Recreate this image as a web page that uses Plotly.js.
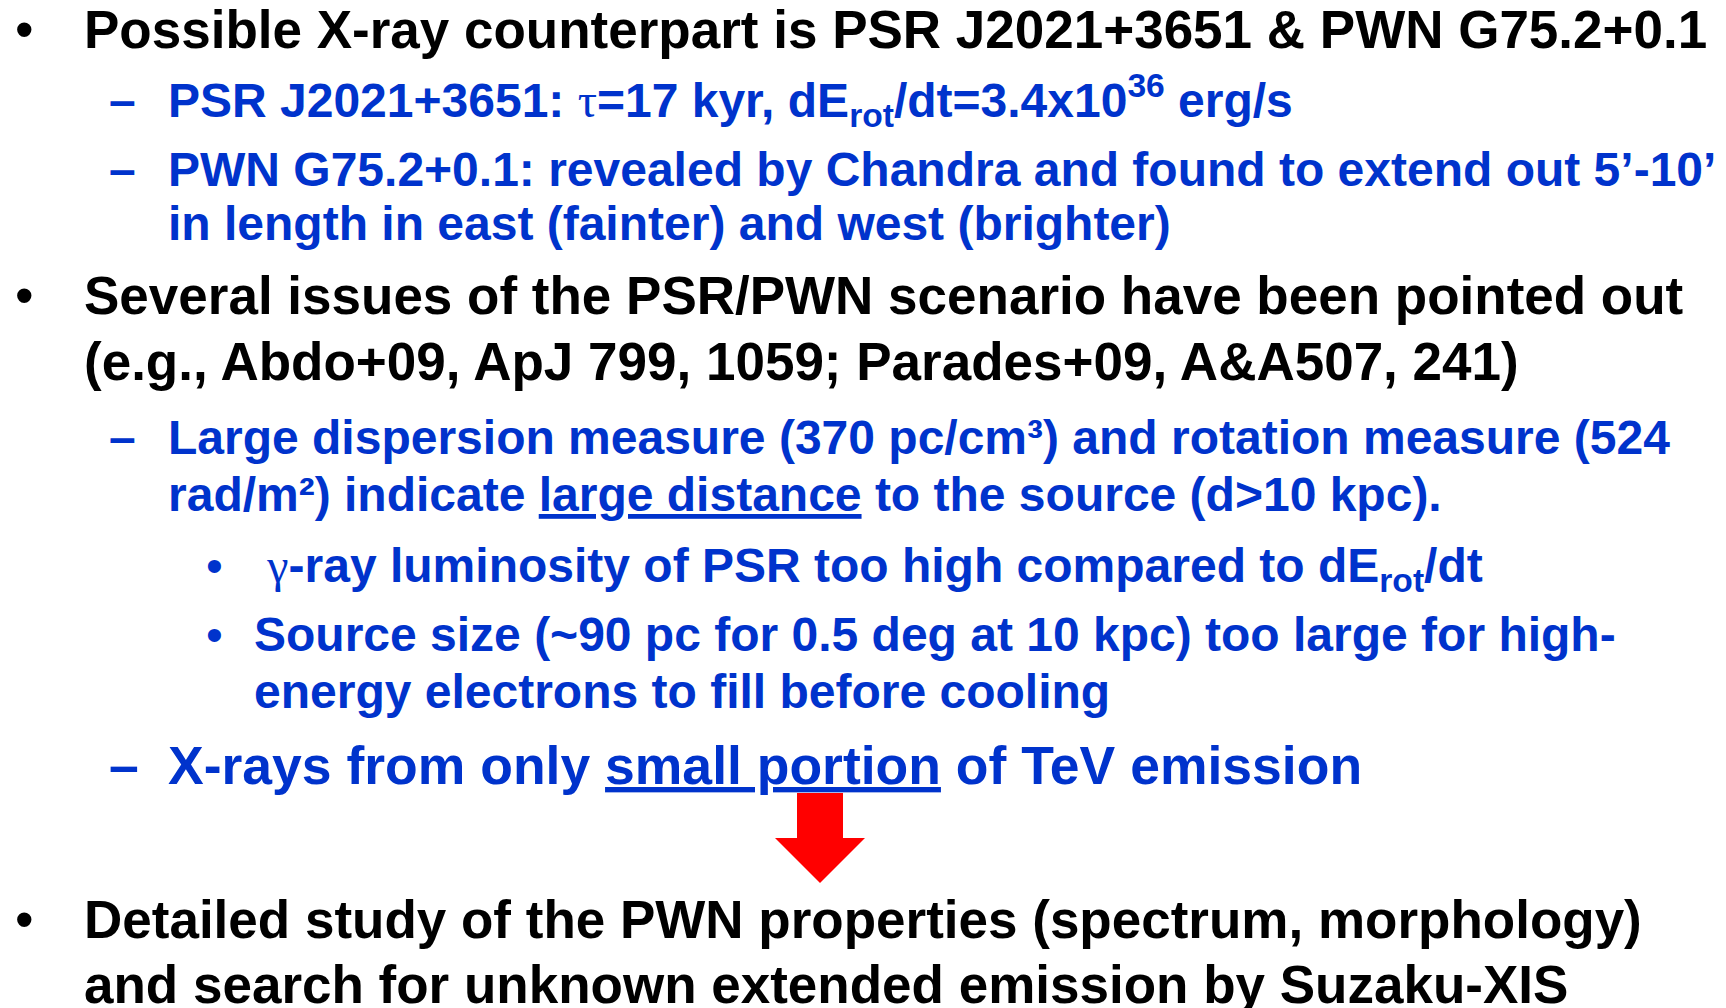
<!DOCTYPE html>
<html>
<head>
<meta charset="utf-8">
<script src="https://cdn.plot.ly/plotly-3.0.1.min.js"></script>
<style>
  html, body { margin: 0; padding: 0; background: #ffffff; }
  #chart { width: 1726px; height: 1008px; }
</style>
</head>
<body>
<div id="chart"></div>
<script>
// ---------------- content (data) ----------------
const sym = s => `<span style="font-family:'Liberation Serif','Times New Roman',serif;font-weight:normal">${s}</span>`;
const und = s => `<span style="text-decoration:underline">${s}</span>`;

const lineText = [
  'Possible X-ray counterpart is PSR J2021+3651 & PWN G75.2+0.1',
  'PSR J2021+3651: ' + sym('τ') + '=17 kyr, dE<sub>rot</sub>/dt=3.4x10<sup>36</sup> erg/s',
  'PWN G75.2+0.1: revealed by Chandra and found to extend out 5’-10’',
  'in length in east (fainter) and west (brighter)',
  'Several issues of the PSR/PWN scenario have been pointed out',
  '(e.g., Abdo+09, ApJ 799, 1059; Parades+09, A&A507, 241)',
  'Large dispersion measure (370 pc/cm³) and rotation measure (524',
  'rad/m²) indicate ' + und('large distance') + ' to the source (d>10 kpc).',
  '\u00A0' + sym('γ') + '-ray luminosity of PSR too high compared to dE<sub>rot</sub>/dt',
  'Source size (~90 pc for 0.5 deg at 10 kpc) too large for high-',
  'energy electrons to fill before cooling',
  'X-rays from only ' + und('small portion') + ' of TeV emission',
  'Detailed study of the PWN properties (spectrum, morphology)',
  'and search for unknown extended emission by Suzaku-XIS'
];
// outline level of each line (0 = main bullet, 1 = dash, 2 = sub bullet)
const lineLevel = [0, 1, 1, 1, 0, 0, 1, 1, 2, 2, 2, 1, 0, 0];
// whether the line starts a new item (shows its marker)
const lineStartsItem = [true, true, true, false, true, false, true, false, true, true, false, true, true, false];
// item marker for each level
const levelMarker = ['•', '–', '•'];

// ---------------- presentation ----------------
const W = 1726, H = 1008;
const BLACK = '#000000', BLUE = 'rgb(0,51,204)', RED = '#ff0000';
const FAMILY = "'Liberation Sans', Arial, Helvetica, sans-serif";

const levelColor = [BLACK, BLUE, BLUE];
const levelSize = [53, 48, 48];
const levelTextX = [82, 166, 252];
const levelMarkerX = [13, 107, 204];
const lineSizeOverride = {11: 53.5};
const lineBaseline = [46.7, 116.7, 185, 239, 313.3, 379, 453.3, 510, 581.7, 650, 707, 783.3, 936.7, 1001.7];

const ASC = 0.905;        // ascent of Liberation Sans
const SUP_TOP = 1.054;    // top of <sup> text relative to font size

const px = x => x / W;
const py = y => 1 - y / H;

const annotations = [];
lineText.forEach((t, i) => {
  const lvl = lineLevel[i];
  const fs = lineSizeOverride[i] || levelSize[lvl];
  const color = levelColor[lvl];
  const base = lineBaseline[i];
  const top = /<sup>/.test(t) ? SUP_TOP : ASC;
  annotations.push({
    xref: 'paper', yref: 'paper',
    x: px(levelTextX[lvl]), y: py(base - 1 - top * fs),
    xanchor: 'left', yanchor: 'top', align: 'left',
    showarrow: false, text: t,
    font: {family: FAMILY, size: fs, color: color, weight: 'bold'}
  });
  if (lineStartsItem[i]) {
    annotations.push({
      xref: 'paper', yref: 'paper',
      x: px(levelMarkerX[lvl]), y: py(base - 1 - ASC * fs),
      xanchor: 'left', yanchor: 'top', align: 'left',
      showarrow: false, text: levelMarker[lvl],
      font: {family: FAMILY, size: fs, color: color, weight: lvl === 1 ? 'bold' : 'normal'}
    });
  }
});

// red down arrow between the last dash item and the conclusion
const arrow = {shaftL: 797, shaftR: 843, top: 793, headY: 838, headL: 775, headR: 865, tipX: 820, tipY: 883};
const arrowPath = [
  `M ${px(arrow.shaftL)} ${py(arrow.top)}`,
  `L ${px(arrow.shaftR)} ${py(arrow.top)}`,
  `L ${px(arrow.shaftR)} ${py(arrow.headY)}`,
  `L ${px(arrow.headR)} ${py(arrow.headY)}`,
  `L ${px(arrow.tipX)} ${py(arrow.tipY)}`,
  `L ${px(arrow.headL)} ${py(arrow.headY)}`,
  `L ${px(arrow.shaftL)} ${py(arrow.headY)} Z`
].join(' ');

const layout = {
  width: W, height: H,
  margin: {l: 0, r: 0, t: 0, b: 0, pad: 0},
  paper_bgcolor: '#ffffff', plot_bgcolor: '#ffffff',
  showlegend: false,
  xaxis: {visible: false, range: [0, 1], fixedrange: true},
  yaxis: {visible: false, range: [0, 1], fixedrange: true},
  annotations: annotations,
  shapes: [{type: 'path', xref: 'paper', yref: 'paper', path: arrowPath,
            fillcolor: RED, line: {width: 0}}]
};

Plotly.newPlot('chart', [{x: [], y: [], type: 'scatter', hoverinfo: 'skip'}], layout,
  {staticPlot: true, displayModeBar: false});
</script>
</body>
</html>
